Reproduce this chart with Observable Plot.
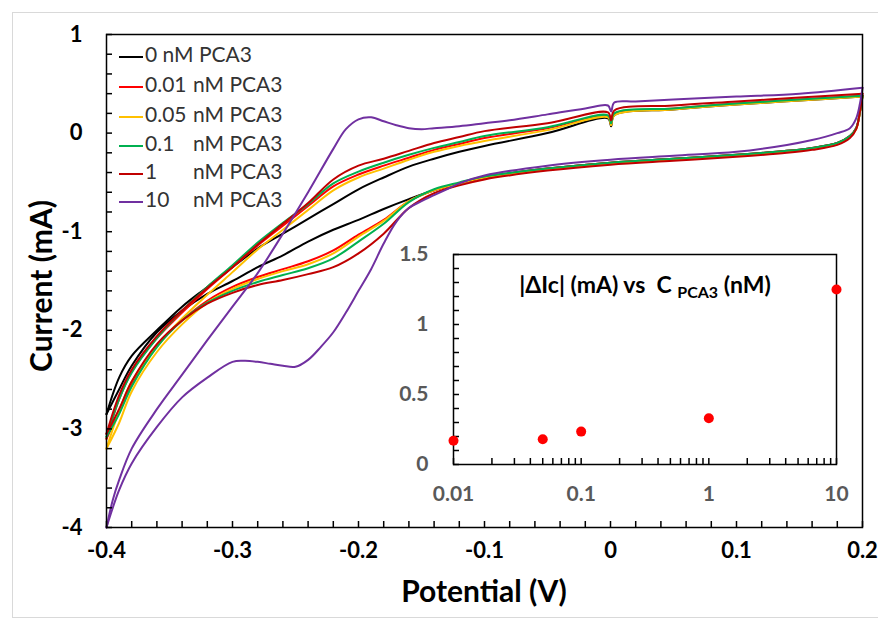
<!DOCTYPE html>
<html><head><meta charset="utf-8">
<script src="https://cdn.jsdelivr.net/npm/d3@7"></script>
<script src="https://cdn.jsdelivr.net/npm/@observablehq/plot@0.6"></script>
<style>
body{margin:0;background:#fff;}
#wrap{position:relative;width:878px;height:625px;overflow:hidden;font-family:Lato,sans-serif;background:#fff;}
#border{position:absolute;left:12px;top:12px;width:900px;height:604px;border:1px solid #d9d9d9;}
#main{position:absolute;left:0;top:0;}
#inset{position:absolute;left:393px;top:244px;}
svg{overflow:visible;}
</style></head><body><div id="wrap"><div id="border"></div><div id="main"></div><div id="inset"></div></div>
<script>
// ---- Series names / colors ----
const seriesNames = ["0", "0.01", "0.05", "0.1", "1", "10"];
const seriesColors = ["#000000", "#FF0000", "#FFC000", "#00B050", "#C00000", "#7030A0"];

// ---- Forward scan (upper branch) potentials, V ----
const potentialFwd = [-0.40,-0.39,-0.38,-0.36,-0.34,-0.32,-0.30,-0.28,-0.26,-0.24,-0.22,-0.20,-0.18,-0.16,-0.14,-0.12,-0.10,-0.05,-0.002,0.0005,0.003,0.05,0.10,0.15,0.20];
const fwd0    = [-2.85,-2.48,-2.26,-2.00,-1.76,-1.56,-1.36,-1.17,-1.02,-0.87,-0.72,-0.57,-0.45,-0.34,-0.26,-0.19,-0.13,0.00,0.15,0.07,0.18,0.24,0.29,0.33,0.37];
const fwd001  = [-3.10,-2.70,-2.42,-2.08,-1.82,-1.58,-1.36,-1.14,-0.94,-0.74,-0.54,-0.42,-0.33,-0.25,-0.17,-0.11,-0.05,0.05,0.17,0.09,0.19,0.25,0.30,0.34,0.38];
const fwd005  = [-3.20,-2.82,-2.52,-2.16,-1.88,-1.64,-1.41,-1.18,-0.98,-0.78,-0.58,-0.45,-0.36,-0.27,-0.19,-0.13,-0.08,0.03,0.16,0.08,0.18,0.24,0.29,0.33,0.37];
const fwd01   = [-3.08,-2.70,-2.43,-2.08,-1.80,-1.56,-1.34,-1.11,-0.91,-0.72,-0.51,-0.39,-0.30,-0.22,-0.15,-0.09,-0.03,0.06,0.18,0.10,0.20,0.25,0.30,0.34,0.38];
const fwd1    = [-3.05,-2.66,-2.40,-2.06,-1.80,-1.57,-1.36,-1.13,-0.92,-0.71,-0.47,-0.33,-0.26,-0.18,-0.10,-0.04,0.02,0.10,0.21,0.13,0.23,0.28,0.32,0.36,0.40];

// ---- Reverse scan (lower branch) potentials, V ----
const potentialRev = [0.20,0.198,0.195,0.19,0.18,0.16,0.14,0.10,0.05,0.00,-0.05,-0.10,-0.12,-0.14,-0.16,-0.18,-0.20,-0.22,-0.24,-0.26,-0.28,-0.30,-0.32,-0.34,-0.36,-0.38,-0.39,-0.40];
const rev0    = [0.37,0.22,0.05,-0.03,-0.10,-0.15,-0.18,-0.22,-0.26,-0.30,-0.36,-0.45,-0.51,-0.58,-0.67,-0.77,-0.88,-0.98,-1.10,-1.24,-1.36,-1.50,-1.63,-1.80,-2.02,-2.36,-2.60,-2.85];
const rev001  = [0.38,0.22,0.05,-0.03,-0.10,-0.15,-0.18,-0.22,-0.26,-0.30,-0.36,-0.45,-0.51,-0.58,-0.69,-0.88,-1.03,-1.19,-1.30,-1.38,-1.46,-1.56,-1.70,-1.90,-2.16,-2.55,-2.82,-3.10];
const rev005  = [0.37,0.21,0.04,-0.04,-0.11,-0.16,-0.19,-0.23,-0.27,-0.31,-0.37,-0.45,-0.51,-0.58,-0.69,-0.89,-1.05,-1.22,-1.33,-1.40,-1.48,-1.58,-1.72,-1.94,-2.22,-2.62,-2.94,-3.20];
const rev01   = [0.38,0.22,0.05,-0.03,-0.10,-0.15,-0.18,-0.22,-0.26,-0.30,-0.36,-0.44,-0.50,-0.57,-0.70,-0.92,-1.10,-1.27,-1.37,-1.44,-1.51,-1.60,-1.72,-1.90,-2.17,-2.57,-2.85,-3.08];
const rev1    = [0.40,0.22,0.04,-0.05,-0.12,-0.17,-0.20,-0.24,-0.28,-0.32,-0.38,-0.47,-0.53,-0.61,-0.76,-1.02,-1.22,-1.36,-1.43,-1.49,-1.54,-1.62,-1.73,-1.90,-2.14,-2.52,-2.80,-3.05];

// ---- 10 nM (purple) scans ----
const potentialFwd10 = [-0.40,-0.395,-0.39,-0.38,-0.36,-0.34,-0.32,-0.30,-0.28,-0.26,-0.24,-0.22,-0.21,-0.20,-0.19,-0.18,-0.17,-0.16,-0.15,-0.14,-0.12,-0.10,-0.08,-0.05,-0.02,-0.002,0.0005,0.003,0.02,0.05,0.10,0.15,0.20];
const fwd10 = [-4.00,-3.72,-3.52,-3.20,-2.80,-2.45,-2.10,-1.76,-1.42,-1.02,-0.60,-0.16,0.04,0.14,0.16,0.12,0.08,0.05,0.04,0.05,0.07,0.10,0.13,0.19,0.25,0.28,0.22,0.31,0.32,0.34,0.37,0.40,0.46];
const potentialRev10 = [0.20,0.198,0.195,0.19,0.18,0.16,0.14,0.10,0.05,0.00,-0.05,-0.10,-0.12,-0.13,-0.14,-0.15,-0.16,-0.17,-0.18,-0.19,-0.20,-0.21,-0.22,-0.23,-0.24,-0.25,-0.26,-0.27,-0.28,-0.29,-0.30,-0.32,-0.34,-0.36,-0.38,-0.39,-0.395,-0.40];
const rev10 = [0.46,0.30,0.15,0.05,0.00,-0.07,-0.12,-0.19,-0.23,-0.27,-0.33,-0.43,-0.51,-0.57,-0.63,-0.69,-0.76,-0.90,-1.12,-1.38,-1.60,-1.82,-2.02,-2.17,-2.30,-2.37,-2.36,-2.34,-2.32,-2.31,-2.32,-2.48,-2.68,-2.98,-3.35,-3.62,-3.80,-4.00];

// ---- Inset data ----
const insetConc = [0.01, 0.05, 0.1, 1, 10];
const insetDeltaIc = [0.17, 0.18, 0.235, 0.33, 1.25];

// ---- Tick labels ----
const xTicks = [-0.4, -0.3, -0.2, -0.1, 0, 0.1, 0.2];
const yTicks = [1, 0, -1, -2, -3, -4];
const insetXTicks = [0.01, 0.1, 1, 10];
const insetYTicks = [0, 0.5, 1, 1.5];

// ---- Build table ----
const fwdSets = [[potentialFwd,fwd0],[potentialFwd,fwd001],[potentialFwd,fwd005],[potentialFwd,fwd01],[potentialFwd,fwd1],[potentialFwd10,fwd10]];
const revSets = [[potentialRev,rev0],[potentialRev,rev001],[potentialRev,rev005],[potentialRev,rev01],[potentialRev,rev1],[potentialRev10,rev10]];
const cvRows = [];
seriesNames.forEach((s, i) => {
  const [vf, f] = fwdSets[i];
  vf.forEach((v, j) => cvRows.push({series: s, key: s + "-f", V: v, I: f[j]}));
  const [vr, r] = revSets[i];
  vr.forEach((v, j) => cvRows.push({series: s, key: s + "-r", V: v, I: r[j]}));
});

const xMinor = d3.range(-0.4, 0.2001, 0.02);
const yMinor = d3.range(-4, 1.0001, 0.2);
const fmt = d => String(+d.toFixed(2));

const W = 878, H = 625, mL = 106, mR = 16, mT = 34, mB = 98;
const iw = W - mL - mR, ih = H - mT - mB;

const main = Plot.plot({
  width: W, height: H, marginLeft: mL, marginRight: mR, marginTop: mT, marginBottom: mB,
  x: {domain: [-0.4, 0.2], label: null},
  y: {domain: [-4, 1], label: null},
  color: {domain: seriesNames, range: seriesColors},
  style: {fontFamily: "Lato", background: "transparent", color: "black"},
  marks: [
    Plot.line(cvRows, {x: "V", y: "I", z: "key", stroke: "series", strokeWidth: 2, curve: "catmull-rom"}),
    Plot.tickX(xMinor, {x: d => d, insetTop: ih - 6, stroke: "black", strokeWidth: 1.5}),
    Plot.tickY(yMinor, {y: d => d, insetRight: iw - 6, stroke: "black", strokeWidth: 1.5}),
    Plot.frame({stroke: "black", strokeWidth: 1.5}),
    Plot.axisX({ticks: xTicks, tickSize: 0, tickPadding: 15, tickFormat: fmt, fontSize: 22, fontWeight: "bold", label: null}),
    Plot.axisY({ticks: yTicks, tickSize: 0, tickPadding: 24, tickFormat: fmt, fontSize: 22, fontWeight: "bold", label: null})
  ]
});
document.getElementById("main").appendChild(main);

// axis titles and legend
const svg = d3.select(main);
svg.append("text").attr("transform", "translate(44,286) rotate(-90)")
  .attr("text-anchor", "middle").attr("dominant-baseline", "middle")
  .attr("font-family", "Lato").attr("font-weight", "bold").attr("font-size", 30).attr("fill", "black")
  .text("Current (mA)");
svg.append("text").attr("x", 484).attr("y", 594)
  .attr("text-anchor", "middle").attr("dominant-baseline", "middle")
  .attr("font-family", "Lato").attr("font-weight", "bold").attr("font-size", 30).attr("fill", "black")
  .text("Potential (V)");

const legendY = [57, 87, 117, 146, 174, 202];
const lg = svg.append("g").attr("font-family", "Lato").attr("font-size", 21).attr("fill", "#333").attr("text-anchor", "start");
seriesNames.forEach((s, i) => {
  const y = legendY[i];
  lg.append("line").attr("x1", 119).attr("x2", 143).attr("y1", y).attr("y2", y)
    .attr("stroke", seriesColors[i]).attr("stroke-width", 2);
  if (s === "0") {
    lg.append("text").attr("x", 145).attr("y", y).attr("text-anchor", "start").attr("dominant-baseline", "middle").text(s + " nM PCA3");
  } else {
    lg.append("text").attr("x", 145).attr("y", y).attr("text-anchor", "start").attr("dominant-baseline", "middle").text(s);
    lg.append("text").attr("x", 193).attr("y", y).attr("text-anchor", "start").attr("dominant-baseline", "middle").text("nM PCA3");
  }
});

// ---- Inset ----
const imL = 60, imR = 15, imT = 10, imB = 45, iW = 458, iH = 265;
const iiw = iW - imL - imR, iih = iH - imT - imB;
const logMinor = [];
[0.01, 0.1, 1].forEach(d => { for (let k = 1; k <= 9; k++) logMinor.push(d * k); });
logMinor.push(10);
const insetYMinor = d3.range(0, 1.5001, 0.1);
const insetRows = insetConc.map((c, i) => ({c, d: insetDeltaIc[i]}));

const inset = Plot.plot({
  width: iW, height: iH, marginLeft: imL, marginRight: imR, marginTop: imT, marginBottom: imB,
  x: {type: "log", domain: [0.01, 10], label: null},
  y: {domain: [0, 1.5], label: null},
  style: {fontFamily: "Lato", background: "transparent", color: "#595959"},
  marks: [
    Plot.frame({fill: "white", stroke: "none"}),
    Plot.tickX(logMinor, {x: d => d, insetTop: iih - 6, stroke: "black", strokeWidth: 1.5}),
    Plot.tickY(insetYMinor, {y: d => d, insetRight: iiw - 6, stroke: "black", strokeWidth: 1.5}),
    Plot.frame({stroke: "black", strokeWidth: 1.5}),
    Plot.dot(insetRows, {x: "c", y: "d", r: 5, fill: "#FF0000", stroke: "none"}),
    Plot.axisX({ticks: insetXTicks, tickSize: 0, tickPadding: 22, tickFormat: d => String(d), fontSize: 21, fontWeight: "bold", label: null}),
    Plot.axisY({ticks: insetYTicks, tickSize: 0, tickPadding: 25, tickFormat: d => String(d), fontSize: 21, fontWeight: "bold", label: null})
  ]
});
document.getElementById("inset").appendChild(inset);

const isvg = d3.select(inset);
const t = isvg.append("text").attr("x", 252).attr("y", 43)
  .attr("text-anchor", "middle").attr("dominant-baseline", "middle")
  .attr("font-family", "Lato").attr("font-weight", "bold").attr("font-size", 23).attr("fill", "black")
  .style("white-space", "pre");
t.append("tspan").text("|ΔIc| (mA) vs  C ");
t.append("tspan").attr("font-size", 16).attr("dy", 7).text("PCA3");
t.append("tspan").attr("dy", -7).text(" (nM)");
</script></body></html>
